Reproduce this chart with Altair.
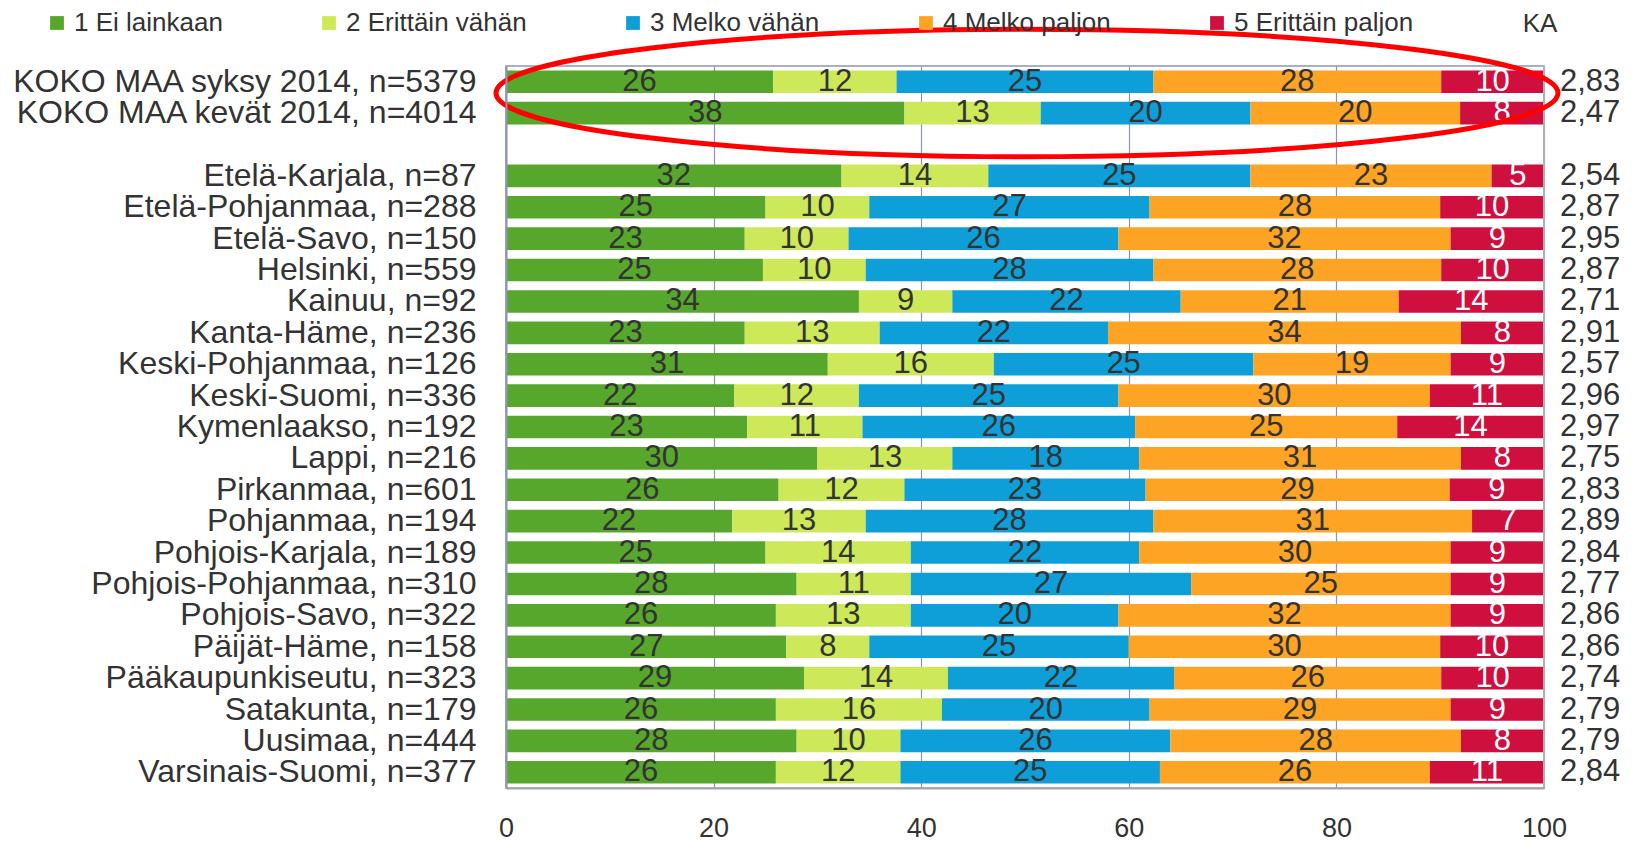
import altair as alt
import pandas as pd

FONT = "Liberation Sans"

regions = [
    "KOKO MAA syksy 2014, n=5379",
    "KOKO MAA kevät 2014, n=4014",
    "Etelä-Karjala, n=87",
    "Etelä-Pohjanmaa, n=288",
    "Etelä-Savo, n=150",
    "Helsinki, n=559",
    "Kainuu, n=92",
    "Kanta-Häme, n=236",
    "Keski-Pohjanmaa, n=126",
    "Keski-Suomi, n=336",
    "Kymenlaakso, n=192",
    "Lappi, n=216",
    "Pirkanmaa, n=601",
    "Pohjanmaa, n=194",
    "Pohjois-Karjala, n=189",
    "Pohjois-Pohjanmaa, n=310",
    "Pohjois-Savo, n=322",
    "Päijät-Häme, n=158",
    "Pääkaupunkiseutu, n=323",
    "Satakunta, n=179",
    "Uusimaa, n=444",
    "Varsinais-Suomi, n=377",
]

ka = ["2,83", "2,47", "2,54", "2,87", "2,95", "2,87", "2,71", "2,91", "2,57", "2,96",
      "2,97", "2,75", "2,83", "2,89", "2,84", "2,77", "2,86", "2,86", "2,74", "2,79",
      "2,79", "2,84"]

cat1 = [26, 38, 32, 25, 23, 25, 34, 23, 31, 22, 23, 30, 26, 22, 25, 28, 26, 27, 29, 26, 28, 26]
cat2 = [12, 13, 14, 10, 10, 10, 9, 13, 16, 12, 11, 13, 12, 13, 14, 11, 13, 8, 14, 16, 10, 12]
cat3 = [25, 20, 25, 27, 26, 28, 22, 22, 25, 25, 26, 18, 23, 28, 22, 27, 20, 25, 22, 20, 26, 25]
cat4 = [28, 20, 23, 28, 32, 28, 21, 34, 19, 30, 25, 31, 29, 31, 30, 25, 32, 30, 26, 29, 28, 26]
cat5 = [10, 8, 5, 10, 9, 10, 14, 8, 9, 11, 14, 8, 9, 7, 9, 9, 9, 10, 10, 9, 8, 11]

categories = ["1 Ei lainkaan", "2 Erittäin vähän", "3 Melko vähän", "4 Melko paljon", "5 Erittäin paljon"]
colors = ["#57a72c", "#cde95a", "#0e9fd8", "#fda424", "#cf0f3e"]

series = [cat1, cat2, cat3, cat4, cat5]
rows = []
for i, r in enumerate(regions):
    for k, (c, s) in enumerate(zip(categories, series)):
        rows.append({"region": r, "cat": c, "k": k + 1, "v": s[i]})
df = pd.DataFrame(rows)
df_ka = pd.DataFrame({"region": regions, "ka": ka})
one = pd.DataFrame({"edge": [100]})

ydomain = regions[:2] + [" "] + regions[2:]

Y = alt.Y(
    "region:N",
    sort=ydomain,
    scale=alt.Scale(domain=ydomain, paddingInner=0.28, paddingOuter=0.14),
    axis=alt.Axis(
        title=None, ticks=False, grid=False, domainColor="#8e94b4", domainWidth=2,
        labelFontSize=32, labelFont=FONT, labelColor="#333333", labelPadding=30,
        labelLimit=0, zindex=1,
    ),
)

xscale = alt.Scale(domain=[0, 100], nice=False)
xaxis = alt.Axis(
    title=None, values=[0, 20, 40, 60, 80, 100], ticks=False, grid=True,
    gridColor="#8e94b4", gridWidth=1.2, domainColor="#a6a6a6", domainWidth=2,
    labelFontSize=27, labelFont=FONT, labelColor="#333333", labelPadding=27,
    labelFlush=False, labelOverlap=False,
)

base = alt.Chart(df).transform_stack(
    stack="v", groupby=["region"], as_=["s0", "s1"], offset="normalize",
    sort=[alt.SortField("k", order="ascending")],
).transform_calculate(
    x0="datum.s0*100", x1="datum.s1*100", xm="(datum.s0+datum.s1)*50"
)

bars = base.mark_bar().encode(
    y=Y,
    x=alt.X("x0:Q", scale=xscale, axis=xaxis),
    x2="x1:Q",
    color=alt.Color(
        "cat:N",
        scale=alt.Scale(domain=categories, range=colors),
        legend=alt.Legend(
            title=None, orient="none", legendX=-462, legendY=-56,
            direction="horizontal", columns=5, gridAlign="each", columnPadding=93,
            symbolType="square", symbolSize=190, symbolStrokeWidth=0,
            labelFontSize=26, labelFont=FONT, labelColor="#333333", labelOffset=4,
            labelLimit=0, padding=0,
        ),
    ),
)

labels = base.mark_text(fontSize=31, font=FONT, baseline="middle").encode(
    y=Y,
    x=alt.X("xm:Q", scale=xscale),
    text="v:Q",
    color=alt.condition(alt.datum.k == 5, alt.value("#ffffff"), alt.value("#333333")),
)

ka_text = alt.Chart(df_ka).mark_text(
    fontSize=31, font=FONT, align="left", baseline="middle", color="#333333"
).encode(y=Y, x=alt.value(1054), text="ka:N")

ka_head = alt.Chart(one).mark_text(
    text="KA", fontSize=26, font=FONT, align="center", baseline="middle", color="#333333"
).encode(x=alt.value(1034), y=alt.value(-42))

right_edge = alt.Chart(one).mark_rule(color="#b0b0b0", strokeWidth=2).encode(
    x=alt.X("edge:Q", scale=xscale)
)

ellipse_path = "M -1 0 A 1 0.12 0 1 1 1 0 A 1 0.12 0 1 1 -1 0 Z"
ellipse = alt.Chart(one).mark_point(
    shape=ellipse_path, size=1127844, filled=False, stroke="#ff0000",
    strokeWidth=5, opacity=1,
).encode(x=alt.value(521), y=alt.value(27))

chart = alt.layer(bars, right_edge, labels, ka_text, ka_head, ellipse).properties(
    width=1038, height=722,
    autosize=alt.AutoSizeParams(type="none"),
    padding={"left": 498, "top": 58, "right": 80, "bottom": 53},
).configure_view(stroke="#8e94b4", strokeWidth=1.5)

chart.save("out.html", embed_options={"renderer": "svg", "actions": False})
